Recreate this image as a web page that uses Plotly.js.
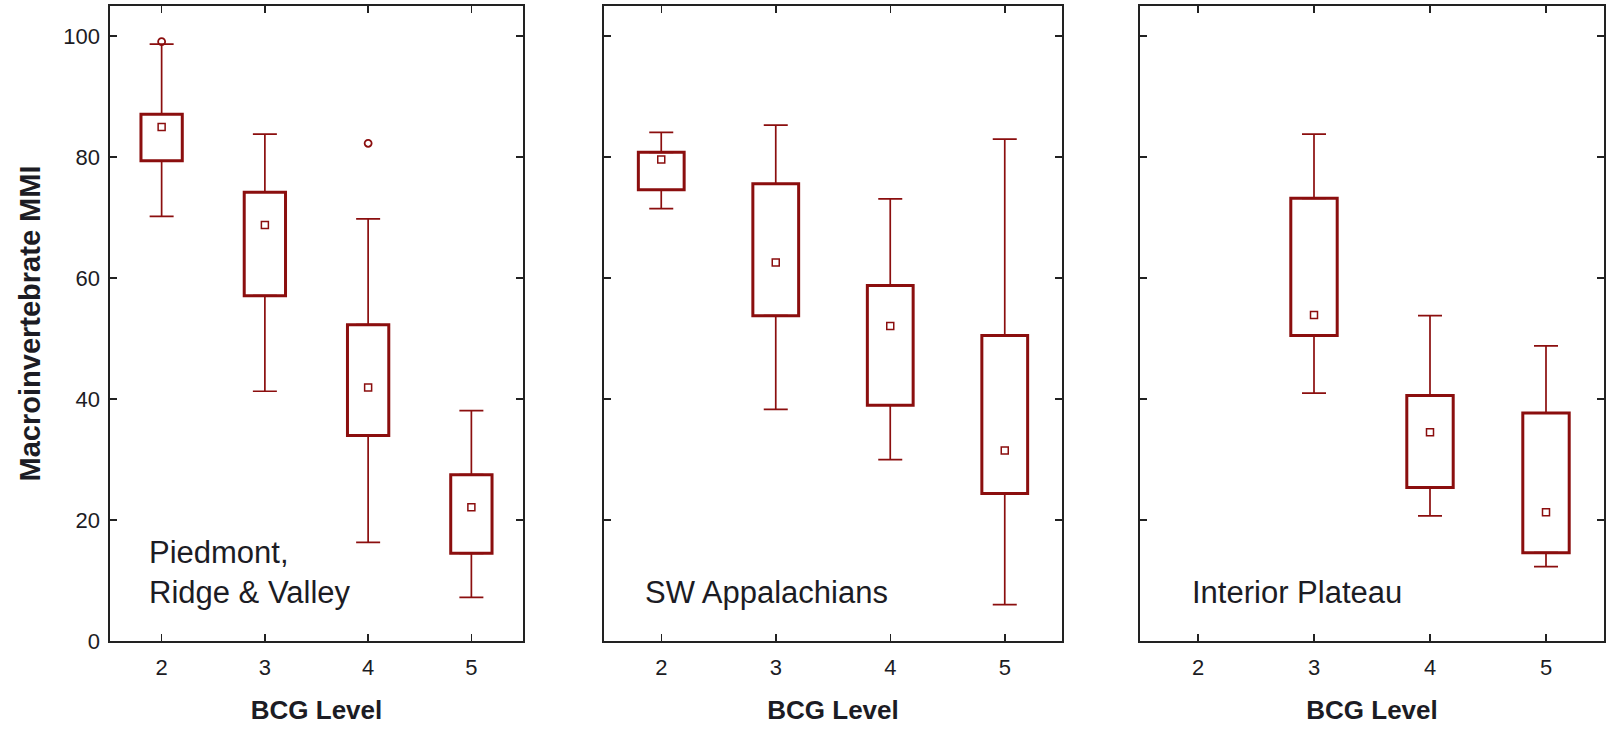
<!DOCTYPE html>
<html>
<head>
<meta charset="utf-8">
<script src="https://cdn.plot.ly/plotly-3.0.1.min.js"></script>
<style>
  html, body { margin: 0; padding: 0; background: #fff; }
  #chart { width: 1611px; height: 729px; }
</style>
</head>
<body>
<div id="chart"></div>
<script>
// BCG level categories shown on every panel
const bcgLevels = [2, 3, 4, 5];

// Piedmont, Ridge & Valley
const piedLevels = [2, 3, 4, 5];
const piedLow    = [70.2, 41.3, 16.3, 7.2];
const piedQ1     = [79.4, 57.1, 34.0, 14.5];
const piedMedian = [85.0, 68.8, 41.9, 22.1];
const piedQ3     = [87.1, 74.2, 52.3, 27.5];
const piedHigh   = [98.7, 83.8, 69.8, 38.1];
const piedOutX   = [2, 4];
const piedOutY   = [99.1, 82.3];

// SW Appalachians
const swaLevels = [2, 3, 4, 5];
const swaLow    = [71.5, 38.3, 30.0, 6.0];
const swaQ1     = [74.6, 53.8, 39.0, 24.4];
const swaMedian = [79.6, 62.6, 52.1, 31.5];
const swaQ3     = [80.8, 75.6, 58.8, 50.5];
const swaHigh   = [84.1, 85.3, 73.1, 83.0];

// Interior Plateau (no level-2 sites)
const ipLevels = [3, 4, 5];
const ipLow    = [41.0, 20.7, 12.3];
const ipQ1     = [50.5, 25.4, 14.6];
const ipMedian = [53.9, 34.5, 21.3];
const ipQ3     = [73.2, 40.6, 37.7];
const ipHigh   = [83.8, 53.8, 48.8];

const regionNames = ['Piedmont,<br>Ridge & Valley', 'SW Appalachians', 'Interior Plateau'];
const yTicks = [0, 20, 40, 60, 80, 100];

const RED = '#8b0e0e';
const INK = '#1c1c24';
const FONT = 'Liberation Sans, Arial, sans-serif';

function panelTraces(ax, lv, lo, q1, med, q3, hi, outX, outY) {
  const xa = 'x' + (ax === 1 ? '' : ax);
  const ya = 'y' + (ax === 1 ? '' : ax);
  const traces = [];
  // box body: interquartile range
  traces.push({
    type: 'bar', xaxis: xa, yaxis: ya,
    x: lv, base: q1, y: q3.map((v, i) => v - q1[i]),
    width: 0.4,
    marker: { color: 'rgba(255,255,255,1)', line: { color: RED, width: 3 } },
    hoverinfo: 'skip', showlegend: false
  });
  // upper whisker
  traces.push({
    type: 'scatter', mode: 'markers', xaxis: xa, yaxis: ya,
    x: lv, y: q3,
    marker: { size: 1, color: 'rgba(0,0,0,0)' },
    error_y: { type: 'data', symmetric: false,
               array: hi.map((v, i) => v - q3[i]), arrayminus: lv.map(() => 0),
               color: RED, thickness: 1.7, width: 12 },
    hoverinfo: 'skip', showlegend: false
  });
  // lower whisker
  traces.push({
    type: 'scatter', mode: 'markers', xaxis: xa, yaxis: ya,
    x: lv, y: q1,
    marker: { size: 1, color: 'rgba(0,0,0,0)' },
    error_y: { type: 'data', symmetric: false,
               array: lv.map(() => 0), arrayminus: lo.map((v, i) => q1[i] - v),
               color: RED, thickness: 1.7, width: 12 },
    hoverinfo: 'skip', showlegend: false
  });
  // median marker
  traces.push({
    type: 'scatter', mode: 'markers', xaxis: xa, yaxis: ya,
    x: lv, y: med,
    marker: { symbol: 'square-open', size: 7, color: RED, line: { color: RED, width: 1.5 } },
    showlegend: false
  });
  if (outX) {
    traces.push({
      type: 'scatter', mode: 'markers', xaxis: xa, yaxis: ya,
      x: outX, y: outY,
      marker: { symbol: 'circle-open', size: 7, color: RED, line: { color: RED, width: 1.8 } },
      showlegend: false
    });
  }
  return traces;
}

const data = [].concat(
  panelTraces(1, piedLevels, piedLow, piedQ1, piedMedian, piedQ3, piedHigh, piedOutX, piedOutY),
  panelTraces(2, swaLevels, swaLow, swaQ1, swaMedian, swaQ3, swaHigh),
  panelTraces(3, ipLevels, ipLow, ipQ1, ipMedian, ipQ3, ipHigh)
);

function xAxis(domain, anchor) {
  return {
    domain: domain, anchor: anchor,
    range: [1.5, 5.5], tickvals: bcgLevels, ticktext: bcgLevels.map(String),
    ticks: 'inside', ticklen: 7, tickwidth: 1.5, tickcolor: '#222',
    showline: true, linecolor: '#222', linewidth: 1.6, mirror: 'ticks',
    showgrid: false, zeroline: false, fixedrange: true,
    tickfont: { family: FONT, size: 22, color: INK },
    ticklabelstandoff: 6,
    title: { text: 'BCG Level', standoff: 22,
             font: { family: FONT, size: 26, color: INK, weight: 'bold' } }
  };
}
function yAxis(anchor, showLabels) {
  const ax = {
    anchor: anchor, domain: [0, 1],
    range: [0, 105], tickvals: yTicks, ticktext: yTicks.map(String),
    showticklabels: showLabels,
    ticks: 'inside', ticklen: 7, tickwidth: 1.5, tickcolor: '#222',
    showline: true, linecolor: '#222', linewidth: 1.6, mirror: 'ticks',
    showgrid: false, zeroline: false, fixedrange: true,
    tickfont: { family: FONT, size: 22, color: INK },
    ticklabelstandoff: 4
  };
  if (showLabels) {
    ax.title = { text: 'Macroinvertebrate MMI', standoff: 14,
                 font: { family: FONT, size: 29, color: INK, weight: 'bold' } };
  }
  return ax;
}

const labelX = [0.09, 0.085, 0.108];
const annotations = regionNames.map((t, i) => ({
  text: t, showarrow: false, align: 'left',
  xref: (i === 0 ? 'x' : 'x' + (i + 1)) + ' domain',
  yref: (i === 0 ? 'y' : 'y' + (i + 1)) + ' domain',
  x: labelX[i], y: 0.045, xanchor: 'left', yanchor: 'bottom',
  font: { family: FONT, size: 31, color: INK }
}));

const layout = {
  width: 1611, height: 729,
  margin: { l: 0, r: 0, t: 6, b: 88 },
  paper_bgcolor: '#fff', plot_bgcolor: '#fff',
  showlegend: false, barmode: 'overlay',
  xaxis:  xAxis([110 / 1611, 523 / 1611], 'y'),
  xaxis2: xAxis([604 / 1611, 1062 / 1611], 'y2'),
  xaxis3: xAxis([1140 / 1611, 1604 / 1611], 'y3'),
  yaxis:  yAxis('x', true),
  yaxis2: yAxis('x2', false),
  yaxis3: yAxis('x3', false),
  annotations: annotations
};

Plotly.newPlot('chart', data, layout, { displayModeBar: false, staticPlot: true });
</script>
</body>
</html>
